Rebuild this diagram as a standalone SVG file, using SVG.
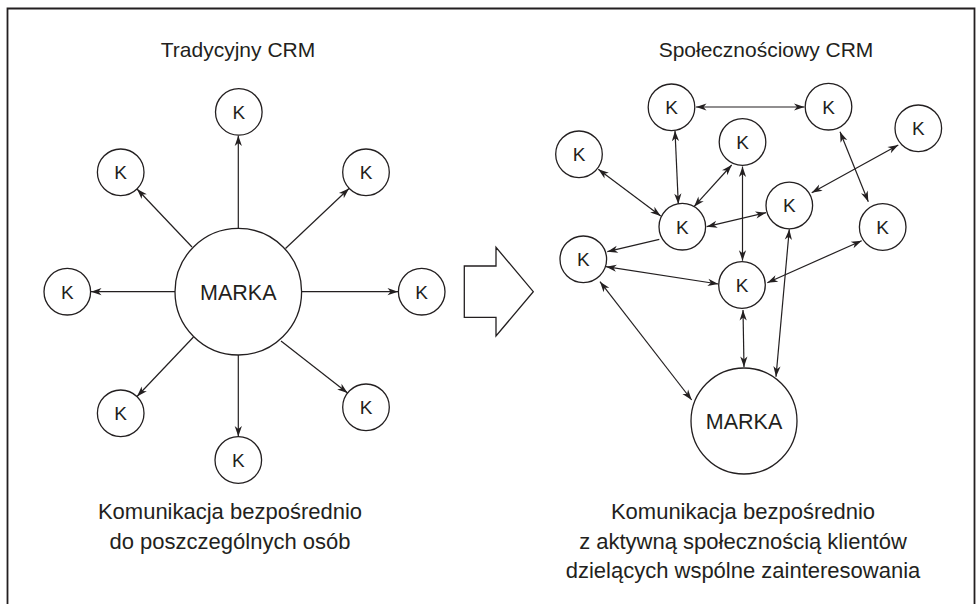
<svg xmlns="http://www.w3.org/2000/svg" width="979" height="604" viewBox="0 0 979 604">
  <style>
    .frame { fill: none; stroke: #231f20; stroke-width: 1.8; }
    .node circle { fill: #ffffff; stroke: #231f20; stroke-width: 1.3; }
    .k { font-family: "Liberation Sans", Arial, sans-serif; font-size: 19px; fill: #231f20; text-anchor: middle; }
    .brand { font-family: "Liberation Sans", Arial, sans-serif; font-size: 21.5px; fill: #231f20; text-anchor: middle; }
    .title { font-family: "Liberation Sans", Arial, sans-serif; font-size: 21px; fill: #231f20; text-anchor: middle; }
    .caption { font-family: "Liberation Sans", Arial, sans-serif; font-size: 22px; fill: #231f20; text-anchor: middle; }
    .link { stroke: #231f20; stroke-width: 1.2; fill: none; }
    .one { marker-end: url(#ah); }
    .two { marker-start: url(#ah); marker-end: url(#ah); }
    .bigarrow { fill: #ffffff; stroke: #231f20; stroke-width: 1.3; stroke-linejoin: miter; }
  </style>
  <defs>
    <marker id="ah" viewBox="-11 -5 12 10" refX="0" refY="0" markerWidth="12" markerHeight="10" markerUnits="userSpaceOnUse" orient="auto-start-reverse">
      <path d="M0,0 L-10.5,-3.6 L-7.5,0 L-10.5,3.6 Z" fill="#231f20"/>
    </marker>
  </defs>

  <!-- outer frame, open at the bottom -->
  <path class="frame" d="M7.5,604 V8.5 H974.5 V604"/>

  <!-- headings -->
  <text class="title" x="238" y="57">Tradycyjny CRM</text>
  <text class="title" x="766" y="57">Społecznościowy CRM</text>

  <!-- connectors -->
  <g id="connectors">
    <!-- left: brand to each customer -->
    <line class="link one" x1="238.3" y1="228.5" x2="238.3" y2="135.5"/>
    <line class="link one" x1="238.3" y1="355" x2="238.3" y2="436.5"/>
    <line class="link one" x1="175" y1="291.7" x2="91" y2="291.7"/>
    <line class="link one" x1="301.7" y1="291.7" x2="398" y2="291.7"/>
    <line class="link one" x1="192" y1="247" x2="137" y2="189"/>
    <line class="link one" x1="285.5" y1="248.5" x2="349" y2="188.5"/>
    <line class="link one" x1="193.5" y1="337" x2="137" y2="396.5"/>
    <line class="link one" x1="281" y1="341" x2="347.6" y2="393"/>

    <!-- right: community network -->
    <line class="link two" x1="696" y1="107" x2="804.5" y2="107"/>
    <line class="link two" x1="675" y1="130.7" x2="678.3" y2="204"/>
    <line class="link two" x1="598.3" y1="169.3" x2="660.7" y2="216"/>
    <line class="link two" x1="731.7" y1="165" x2="694" y2="206.7"/>
    <line class="link two" x1="742.5" y1="166.5" x2="742.5" y2="260.7"/>
    <line class="link two" x1="706.7" y1="226.7" x2="766" y2="212.7"/>
    <line class="link one" x1="659.3" y1="239.3" x2="607.3" y2="251.7"/>
    <line class="link two" x1="840" y1="131.7" x2="868.3" y2="201.7"/>
    <line class="link two" x1="898.3" y1="145" x2="811.7" y2="192.7"/>
    <line class="link two" x1="861.7" y1="240.7" x2="767.3" y2="282.7"/>
    <line class="link two" x1="606" y1="266.7" x2="718.3" y2="284"/>
    <line class="link two" x1="600" y1="281.7" x2="691.7" y2="400"/>
    <line class="link two" x1="743" y1="310" x2="744" y2="367"/>
    <line class="link two" x1="789.3" y1="229.3" x2="776" y2="376.7"/>
  </g>

  <!-- left diagram nodes -->
  <g id="l-brand" class="node"><circle cx="238.3" cy="291.7" r="63.3"/><text class="brand" x="238.3" y="299.5">MARKA</text></g>
  <g id="l-k-top" class="node"><circle cx="238.8" cy="111.9" r="23.3"/><text class="k" x="238.8" y="118.7">K</text></g>
  <g id="l-k-top-left" class="node"><circle cx="120.7" cy="172.3" r="23.3"/><text class="k" x="120.7" y="179.1">K</text></g>
  <g id="l-k-top-right" class="node"><circle cx="366" cy="172.3" r="23.3"/><text class="k" x="366" y="179.1">K</text></g>
  <g id="l-k-left" class="node"><circle cx="67.3" cy="291.7" r="23.3"/><text class="k" x="67.3" y="298.5">K</text></g>
  <g id="l-k-right" class="node"><circle cx="421.7" cy="291.7" r="23.3"/><text class="k" x="421.7" y="298.5">K</text></g>
  <g id="l-k-bottom-left" class="node"><circle cx="120.7" cy="413.3" r="23.3"/><text class="k" x="120.7" y="420.1">K</text></g>
  <g id="l-k-bottom-right" class="node"><circle cx="366" cy="407.3" r="23.3"/><text class="k" x="366" y="414.1">K</text></g>
  <g id="l-k-bottom" class="node"><circle cx="238.3" cy="460" r="23.3"/><text class="k" x="238.3" y="466.8">K</text></g>

  <!-- transition arrow -->
  <g id="shift-arrow">
    <path class="bigarrow" d="M464.3,266 H496 V247.3 L533.3,291.7 L496,336 V317.4 H464.3 Z"/>
  </g>

  <!-- right diagram nodes -->
  <g id="r-k1" class="node"><circle cx="671.5" cy="107.3" r="23.3"/><text class="k" x="671.5" y="114.1">K</text></g>
  <g id="r-k2" class="node"><circle cx="828.5" cy="106.7" r="23.3"/><text class="k" x="828.5" y="113.5">K</text></g>
  <g id="r-k3" class="node"><circle cx="918.3" cy="128.3" r="23.3"/><text class="k" x="918.3" y="135.1">K</text></g>
  <g id="r-k4" class="node"><circle cx="579" cy="154.3" r="23.3"/><text class="k" x="579" y="161.1">K</text></g>
  <g id="r-k5" class="node"><circle cx="742.5" cy="142" r="23.3"/><text class="k" x="742.5" y="148.8">K</text></g>
  <g id="r-k6" class="node"><circle cx="682.3" cy="226.7" r="23.3"/><text class="k" x="682.3" y="233.5">K</text></g>
  <g id="r-k7" class="node"><circle cx="789.3" cy="205.5" r="23.3"/><text class="k" x="789.3" y="212.3">K</text></g>
  <g id="r-k8" class="node"><circle cx="882.7" cy="227" r="23.3"/><text class="k" x="882.7" y="233.8">K</text></g>
  <g id="r-k9" class="node"><circle cx="583.3" cy="259.3" r="23.3"/><text class="k" x="583.3" y="266.1">K</text></g>
  <g id="r-k10" class="node"><circle cx="742" cy="285" r="23.3"/><text class="k" x="742" y="291.8">K</text></g>
  <g id="r-brand" class="node"><circle cx="744" cy="421" r="53"/><text class="brand" x="744" y="428.7">MARKA</text></g>

  <!-- captions -->
  <text class="caption" x="230" y="519">Komunikacja bezpośrednio</text>
  <text class="caption" x="230" y="548.5">do poszczególnych osób</text>
  <text class="caption" x="743" y="519">Komunikacja bezpośrednio</text>
  <text class="caption" x="743" y="548.5">z aktywną społecznością klientów</text>
  <text class="caption" x="743" y="578">dzielących wspólne zainteresowania</text>
</svg>
